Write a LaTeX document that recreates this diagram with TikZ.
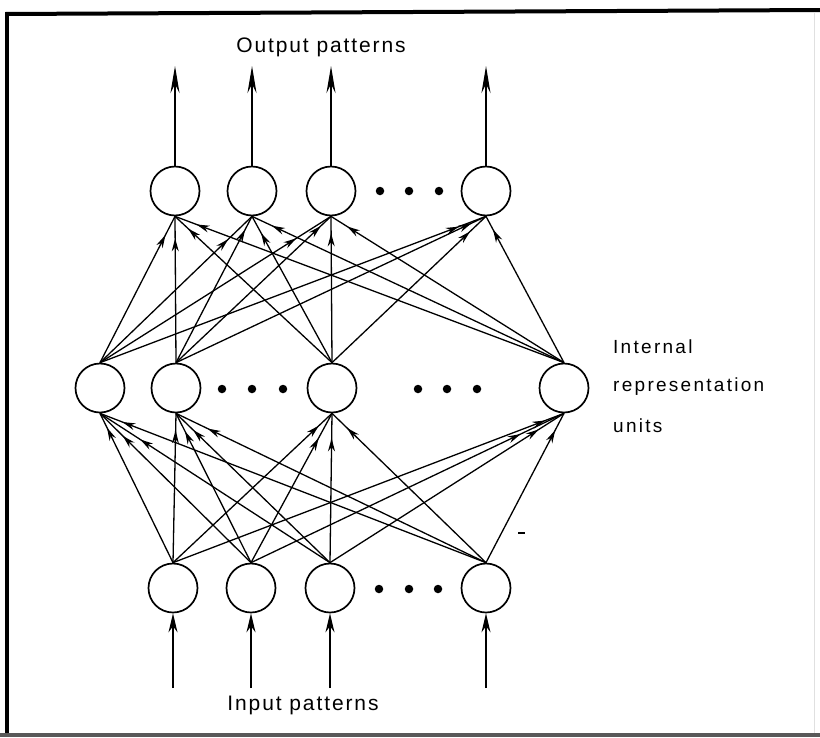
\documentclass[tikz,border=0pt]{standalone}
\usepackage{fontspec}
\usetikzlibrary{arrows.meta,decorations.markings}
\newfontfamily\lblfont[LetterSpace=9]{Liberation Sans}
\newfontfamily\sidefont[LetterSpace=12]{Liberation Sans}

\tikzset{
  unit/.style={circle, draw, line width=1.7pt, minimum size=49pt, inner sep=0pt},
  dotmark/.style={circle, fill, inner sep=0pt, minimum size=8.5pt},
  link/.style={line width=1.3pt, postaction={decorate},
    decoration={markings, mark=at position -#1 with {\arrow{Stealth[length=13pt,width=7pt]}}}},
  ioarrow/.style={line width=1.4pt, -{Stealth[length=#1,width=9pt]}},
  caption/.style={font=\fontsize{21}{21}\lblfont, inner sep=0pt},
  sidelabel/.style={font=\fontsize{19}{19}\sidefont, inner sep=0pt, anchor=west}
}

\begin{document}
\begin{tikzpicture}[x=1pt, y=-1pt]
  \useasboundingbox (0,0) rectangle (820,737);

  % frame: heavy top rule and left side, grey bottom rule, faint right side
  \fill (5,12) -- (820,8) -- (820,12) -- (5,16) -- cycle;
  \fill (5,12) rectangle (9,737);
  \fill[black!65] (0,733) rectangle (820,737);
  \fill[black!12] (814,12) rectangle (815,733);

  % output units
  \node[unit] (o1) at (175,191) {};
  \node[unit] (o2) at (252,191) {};
  \node[unit] (o3) at (331,191) {};
  \node[unit] (o4) at (486,191) {};
  \node[dotmark] (od1) at (380,191) {};
  \node[dotmark] (od2) at (409,191) {};
  \node[dotmark] (od3) at (439,191) {};

  % internal representation units
  \node[unit] (h1) at (100,388) {};
  \node[unit] (h2) at (176,388) {};
  \node[unit] (h3) at (332,388) {};
  \node[unit] (h4) at (564,388) {};
  \node[dotmark] (hd1) at (222,389) {};
  \node[dotmark] (hd2) at (252,389) {};
  \node[dotmark] (hd3) at (283,389) {};
  \node[dotmark] (hd4) at (418,389) {};
  \node[dotmark] (hd5) at (447,389) {};
  \node[dotmark] (hd6) at (477,389) {};

  % input units
  \node[unit] (i1) at (173,588) {};
  \node[unit] (i2) at (251,588) {};
  \node[unit] (i3) at (330,588) {};
  \node[unit] (i4) at (486,588) {};
  \node[dotmark] (id1) at (379,589) {};
  \node[dotmark] (id2) at (409,589) {};
  \node[dotmark] (id3) at (438,589) {};

  % hidden -> output connections
  \foreach \s/\t/\d in {h1/o1/21pt, h2/o1/22pt, h3/o1/18pt, h4/o1/23pt,
                        h1/o2/33pt, h2/o2/15pt, h3/o2/19pt, h4/o2/22pt,
                        h1/o3/41pt, h2/o3/14pt, h3/o3/17pt, h4/o3/19pt,
                        h1/o4/29pt, h2/o4/16pt, h3/o4/22pt, h4/o4/15pt}
    \draw[link=\d] (\s.north) -- (\t.south);

  % input -> hidden connections
  \foreach \s/\t/\d in {i1/h1/16pt, i2/h1/32pt, i3/h1/48pt, i4/h1/24pt,
                        i1/h2/17pt, i2/h2/20pt, i3/h2/24pt, i4/h2/35pt,
                        i1/h3/18pt, i2/h3/28pt, i3/h3/25pt, i4/h3/21pt,
                        i1/h4/20pt, i2/h4/48pt, i3/h4/30pt, i4/h4/19pt}
    \draw[link=\d] (\s.north) -- (\t.south);

  % output arrows
  \foreach \n/\x in {1/175, 2/252, 3/331, 4/486}
    \coordinate (out\n) at (\x,66);
  \foreach \n in {1,2,3,4}
    \draw[ioarrow=27pt] (o\n.north) -- (out\n);

  % input arrows
  \foreach \n/\x in {1/173, 2/251, 3/330, 4/486}
    \coordinate (in\n) at (\x,688);
  \foreach \n in {1,2,3,4}
    \draw[ioarrow=19pt] (in\n) -- (i\n.south);

  % labels
  \node[caption] (outlbl) at (321,47) {Output patterns};
  \node[caption] (inlbl) at (303,705) {Input patterns};
  \node[sidelabel] (lbl1) at (613,347) {Internal};
  \node[sidelabel] (lbl2) at (613,387) {representation};
  \node[sidelabel] (lbl3) at (613,426) {units};

  % small stray mark
  \draw[line width=2.5pt] (518,533) -- (525,533);
\end{tikzpicture}
\end{document}
